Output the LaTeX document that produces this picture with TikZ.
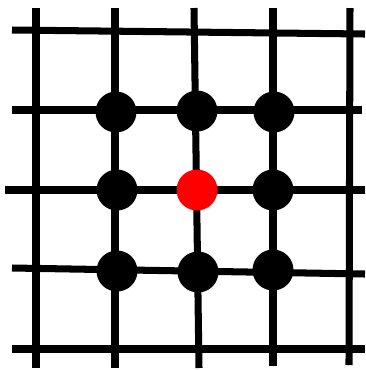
\documentclass[tikz,border=0pt]{standalone}
\usepackage{tikz}

\begin{document}
\begin{tikzpicture}[
    x=0.02cm, y=-0.02cm,
    line width=4pt,
    grade/.style={line cap=butt},
    ponto/.style={circle, fill=black, inner sep=0pt, minimum size=0.82cm},
    centro/.style={ponto, fill=red},
  ]
  \useasboundingbox (0,0) rectangle (366,370);

  % Linhas horizontais
  \draw[grade] (12,30) -- (365,34);
  \draw[grade] (12,110) -- (362,110);
  \draw[grade] (5,190) -- (365,190);
  \draw[grade] (12,268) -- (365,274);
  \draw[grade] (12,349) -- (365,349);

  % Linhas verticais
  \draw[grade] (36,8) -- (36,368);
  \draw[grade] (115,8) -- (115,368);
  \draw[grade] (194,8) -- (199,368);
  \draw[grade] (273,8) -- (273,366);
  \draw[grade] (350,8) -- (349,365);

  % Vizinhos
  \node[ponto] (p11) at (116,112) {};
  \node[ponto] (p12) at (197,111) {};
  \node[ponto] (p13) at (274,112) {};
  \node[ponto] (p21) at (117,190) {};
  \node[ponto] (p23) at (273,190) {};
  \node[ponto] (p31) at (117,271) {};
  \node[ponto] (p32) at (198,272) {};
  \node[ponto] (p33) at (273,270) {};

  % Celula central
  \node[centro] (p22) at (197,190) {};
\end{tikzpicture}
\end{document}
